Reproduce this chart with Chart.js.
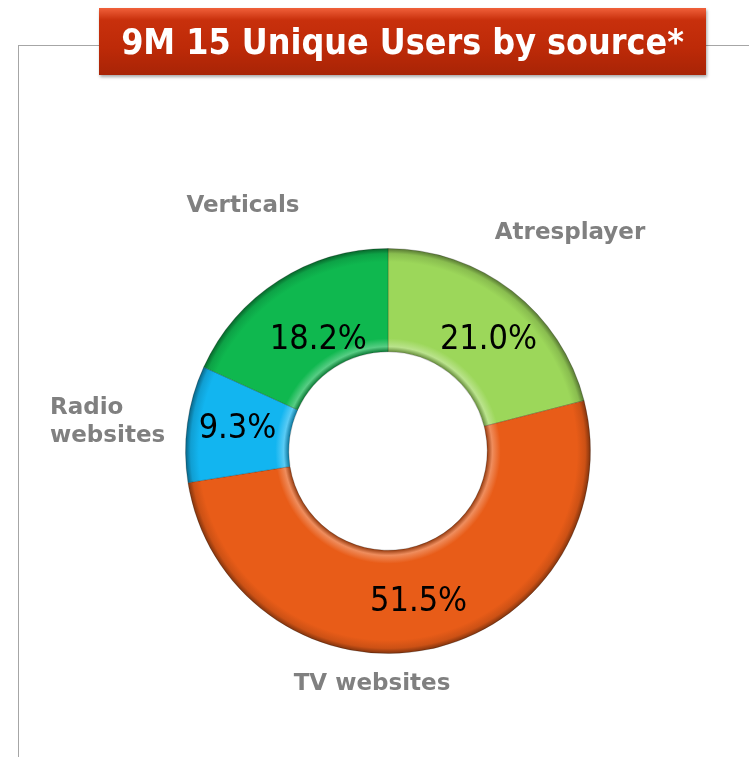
<!DOCTYPE html>
<html>
<head>
<meta charset="utf-8">
<script src="https://cdn.jsdelivr.net/npm/chart.js@4.4.0/dist/chart.umd.min.js"></script>
<style>
  html,body{margin:0;padding:0;background:#fff;}
  #wrap{position:relative;width:749px;height:757px;overflow:hidden;}
  #chart{position:absolute;left:0;top:0;}
  .line{position:absolute;background:#a6a6a6;}
  #title{position:absolute;left:99px;top:8px;width:607px;height:67px;
    background:linear-gradient(#f0603a 0%,#c8300c 18%,#bd2a08 60%,#a82406 100%);
    box-shadow:1px 2px 3px rgba(0,0,0,0.35);
    color:#fff;font:bold 35.5px "DejaVu Sans Condensed","DejaVu Sans",sans-serif;
    text-align:center;line-height:67px;white-space:nowrap;}
</style>
</head>
<body>
<div id="wrap">
  <div class="line" style="left:18px;top:45px;width:82px;height:1px"></div>
  <div class="line" style="left:706px;top:45px;width:43px;height:1px"></div>
  <div class="line" style="left:18px;top:45px;width:1px;height:712px"></div>
  <canvas id="chart" width="749" height="757"></canvas>
  <div id="title">9M 15 Unique Users by source*</div>
</div>
<script>
// Data
const categories = ['Atresplayer', 'TV websites', 'Radio websites', 'Verticals'];
const shares = [21.0, 51.5, 9.3, 18.2];
const colors = ['#9cd75a', '#e85c18', '#12b5f0', '#0fb84f'];

// outer label placement (layout only)
const outerLabels = [
  {lines:['Atresplayer'], x:570, y:233, align:'center'},
  {lines:['TV websites'], x:372, y:684, align:'center'},
  {lines:['Radio', 'websites'], x:50, y:408, align:'left'},
  {lines:['Verticals'], x:243, y:206, align:'center'}
];
const pctNudge = [[8,8],[0,3],[-1,-2],[12,16]];

function shade(hex, f){
  const n=parseInt(hex.slice(1),16);
  let r=n>>16, g=(n>>8)&255, b=n&255;
  const t=f<0?0:255, p=Math.abs(f);
  r=Math.round((t-r)*p+r); g=Math.round((t-g)*p+g); b=Math.round((t-b)*p+b);
  return `rgb(${r},${g},${b})`;
}

function bevel(ctx){
  const chart=ctx.chart;
  const meta=chart.getDatasetMeta(0);
  const arc=meta.data[ctx.dataIndex];
  const base=colors[ctx.dataIndex];
  if(!arc || !arc.outerRadius) return base;
  const c=chart.ctx;
  const g=c.createRadialGradient(arc.x,arc.y,arc.innerRadius,arc.x,arc.y,arc.outerRadius);
  g.addColorStop(0, shade(base,-0.35));
  g.addColorStop(0.05, shade(base,0.3));
  g.addColorStop(0.13, base);
  g.addColorStop(0.87, base);
  g.addColorStop(0.95, shade(base,-0.12));
  g.addColorStop(1, shade(base,-0.45));
  return g;
}

const labelPlugin={
  id:'labels',
  afterDatasetsDraw(chart){
    const c=chart.ctx;
    const meta=chart.getDatasetMeta(0);
    c.save();
    c.textBaseline='middle';
    c.textAlign='center';
    c.fillStyle='#000';
    c.font='34px "DejaVu Sans Condensed","DejaVu Sans",sans-serif';
    meta.data.forEach((arc,i)=>{
      const p=arc.tooltipPosition();
      c.fillText(shares[i].toFixed(1)+'%', p.x+pctNudge[i][0], p.y+pctNudge[i][1]);
    });
    c.fillStyle='#808080';
    c.font='bold 23px "DejaVu Sans",Verdana,sans-serif';
    outerLabels.forEach(l=>{
      c.textAlign=l.align;
      l.lines.forEach((s,k)=>c.fillText(s,l.x,l.y+k*28));
    });
    c.restore();
  }
};

const donut=new Chart(document.getElementById('chart'),{
  type:'doughnut',
  data:{labels:categories,datasets:[{data:shares,backgroundColor:bevel,borderColor:'rgba(0,0,0,0.2)',borderWidth:1}]},
  options:{
    responsive:false,animation:false,cutout:'49%',
    layout:{padding:{left:185,right:158,top:248,bottom:103}},
    plugins:{legend:{display:false},tooltip:{enabled:false}}
  },
  plugins:[labelPlugin]
});
// second pass so the gradients see the arc radii
donut.update('none');
</script>
</body>
</html>
